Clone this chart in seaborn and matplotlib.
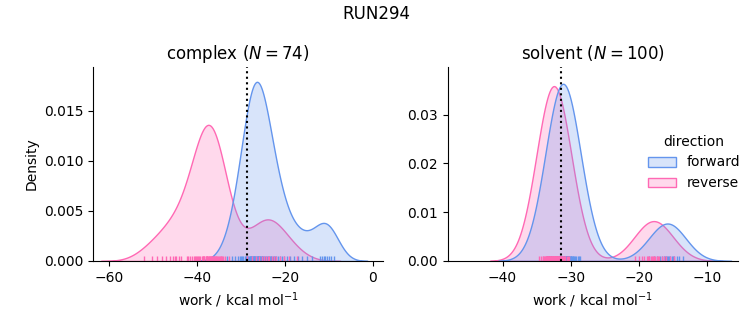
import numpy as np
import pandas as pd
import matplotlib
matplotlib.use("Agg")
import matplotlib.pyplot as plt
import seaborn as sns

# ---- data (work values, kcal/mol) ----
complex_forward = [
    -33.2, -32.0, -31.3, -30.7, -30.3, -29.9, -29.7, -29.4, -29.1, -28.9,
    -28.8, -28.6, -28.4, -28.2, -28.0, -27.9, -27.8, -27.6, -27.5, -27.3,
    -27.2, -27.0, -27.0, -26.8, -26.7, -26.5, -26.4, -26.2, -26.1, -26.0,
    -25.9, -25.7, -25.6, -25.4, -25.3, -25.1, -24.9, -24.7, -24.6, -24.3,
    -24.1, -23.9, -23.6, -23.4, -23.1, -22.8, -22.5, -22.3, -21.9, -21.6,
    -21.2, -20.7, -20.2, -19.6, -18.8, -18.0, -17.1, -16.1,
    -27.7, -26.9, -26.3, -25.8, -25.2, -23.2,
    -15.0, -13.8, -12.0, -11.5, -11.1, -10.8, -10.4, -10.0, -9.5, -8.8,
]
complex_reverse = [
    -52.0, -50.3, -49.1, -48.0, -47.0, -46.2, -45.5, -44.8, -44.1, -43.5,
    -45.0,
    -42.1, -41.6, -41.2, -40.7, -40.4, -40.1, -39.7, -39.5, -39.2, -38.9,
    -38.7, -38.4, -38.3, -38.0, -37.8, -37.6, -37.4, -37.2, -37.0, -36.8,
    -36.6, -36.5, -36.2, -36.1, -35.9, -35.6, -35.5, -35.2, -35.0, -34.8,
    -34.5, -34.3, -34.0, -33.7, -37.3, -36.0, -32.6,
    -37.9, -37.1, -36.4, -38.7, -39.9, -35.7, -34.6, -42.2, -37.8, -36.7,
    -28.6, -27.4, -26.5, -25.8, -25.2, -24.7, -24.3, -23.9, -23.5, -23.0,
    -22.5, -21.9, -21.2, -20.3, -19.0, -17.2,
]
solvent_forward = [
    -32.0, -33.5, -33.2, -33.0, -32.8, -32.7, -32.6, -32.5, -32.4, -32.3,
    -32.2, -32.2, -32.1, -32.0, -32.0, -31.9, -31.9, -31.8, -31.8, -31.7,
    -31.7, -31.7, -31.6, -31.6, -31.6, -31.5, -31.5, -31.5, -31.4, -31.4,
    -31.4, -31.4, -31.3, -31.3, -31.3, -31.3, -31.2, -31.2, -31.2, -31.1,
    -31.1, -31.1, -31.0, -31.0, -31.0, -30.9, -30.9, -30.9, -30.8, -30.8,
    -30.8, -30.7, -30.7, -30.6, -30.6, -30.5, -30.5, -30.4, -30.4, -30.3,
    -30.3, -30.2, -30.2, -30.1, -30.0, -29.9, -29.8, -29.7, -29.6, -29.5,
    -29.4, -29.2, -29.0, -28.8, -28.6, -30.6, -30.4, -32.9, -31.5, -31.2,
    -30.0, -31.0,
    -18.5, -17.8, -17.3, -16.9, -16.6, -16.4, -16.2, -16.0, -15.9, -15.8,
    -15.6, -15.4, -15.2, -15.0, -14.8, -14.5, -14.2, -13.6,
]
solvent_reverse = [
    -33.4, -33.0, -33.2, -32.6, -34.3, -34.1, -34.0, -33.9, -33.8, -33.7,
    -33.6, -33.5, -33.5, -33.4, -33.3, -33.3, -33.2, -33.2, -33.1, -33.1,
    -33.0, -33.0, -32.9, -32.9, -32.9, -32.8, -32.8, -32.7, -32.7, -32.7,
    -32.6, -32.6, -32.6, -32.5, -32.5, -32.5, -32.4, -32.4, -32.4, -32.3,
    -32.3, -32.2, -32.2, -32.2, -32.1, -32.1, -32.0, -32.0, -31.9, -31.9,
    -31.8, -31.8, -31.7, -31.7, -31.6, -31.5, -31.5, -31.4, -31.3, -31.2,
    -31.1, -31.0, -30.9, -30.8, -30.6, -30.4, -30.2, -32.4, -31.8, -31.5,
    -34.7, -33.6, -33.4, -33.0, -32.8, -32.5, -32.3, -32.0, -31.6, -31.3,
    -20.6, -20.0, -19.6, -19.2, -18.9, -18.7, -18.5, -18.3, -18.1, -17.9,
    -17.8, -17.6, -17.4, -17.2, -17.0, -16.7, -16.4, -16.0, -15.5, -14.9,
]
phases = ["complex", "solvent"]
free_energy = {"complex": -28.6, "solvent": -31.5}
n_samples = {"complex": 74, "solvent": 100}

rows = []
for phase, fwd, rev in [("complex", complex_forward, complex_reverse),
                        ("solvent", solvent_forward, solvent_reverse)]:
    rows += [(w, "forward", phase) for w in fwd]
    rows += [(w, "reverse", phase) for w in rev]
df = pd.DataFrame(rows, columns=["work", "direction", "phase"])

palette = {"forward": "cornflowerblue", "reverse": "hotpink"}

g = sns.displot(data=df, x="work", hue="direction", col="phase", kind="kde",
                fill=True, rug=True, palette=palette, col_order=phases,
                hue_order=["forward", "reverse"],
                facet_kws=dict(sharex=False, sharey=False))

fig = g.figure
fig.set_size_inches(7.53, 3.25)
fig.subplots_adjust(left=0.1235, right=0.980, bottom=0.197, top=0.794, wspace=0.224)

for ax, phase in zip(g.axes.flat, phases):
    ax.axvline(free_energy[phase], color="black", ls=":", lw=1.5)
    ax.set_title(f"{phase} ($N = {n_samples[phase]}$)", fontsize=12)
    ax.set_xlabel("work / kcal mol$^{-1}$")

g.axes.flat[0].set_ylabel("Density")
g.axes.flat[0].set_ylim(0, 0.0194)
g.axes.flat[1].set_ylim(0, 0.0398)
g.axes.flat[0].set_xlim(-63.6, 2.3)
g.axes.flat[1].set_xlim(-48.0, -5.5)

sns.move_legend(g, "center right", bbox_to_anchor=(1.0, 0.50), frameon=False)
fig.suptitle("RUN294", fontsize=12, y=0.985)

fig.savefig("out.png", dpi=100)
